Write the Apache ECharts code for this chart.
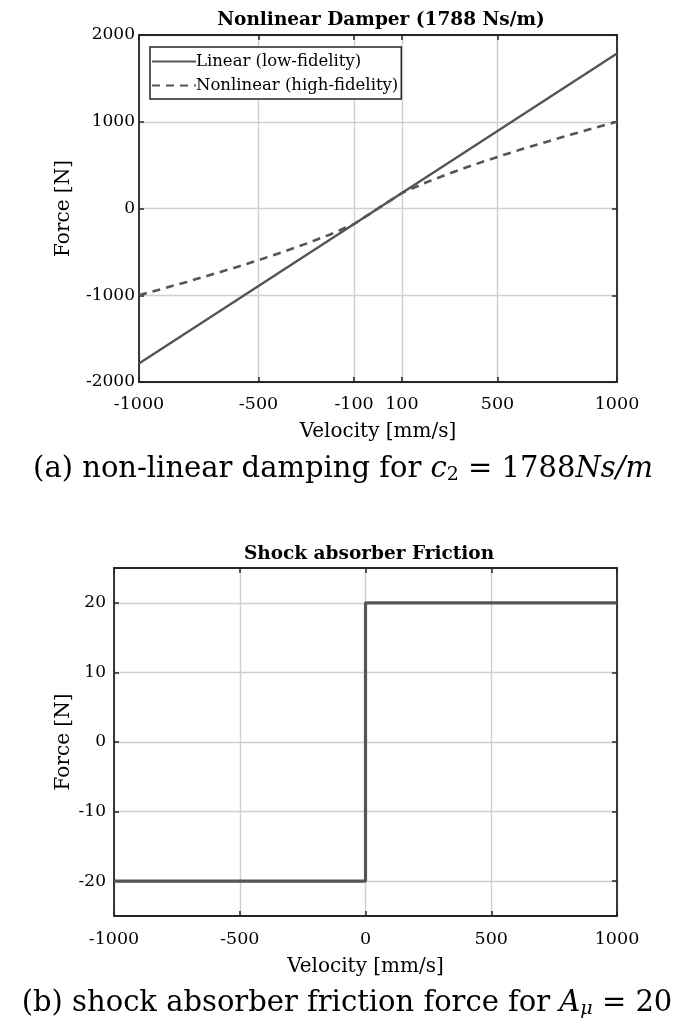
<!DOCTYPE html>
<html>
<head>
<meta charset="utf-8">
<script src="https://cdn.jsdelivr.net/npm/echarts@6/dist/echarts.min.js"></script>
<style>
  html, body { margin: 0; padding: 0; background: #fff; }
  #chart { width: 685px; height: 1027px; }
</style>
</head>
<body>
<div id="chart"></div>
<script>
// top plot: damper force vs velocity
var velTicks = [-1000, -500, -100, 100, 500, 1000];
var linearVel = [-1000, -100, 0, 100, 1000];
var linearForce = [-1788, -179, 0, 179, 1788];
var nonlinVel = [-1000, -900, -800, -700, -600, -500, -400, -300, -200, -100, 0, 100, 200, 300, 400, 500, 600, 700, 800, 900, 1000];
var nonlinForce = [-1000, -924, -846, -765, -682, -595, -503, -405, -299, -179, 0, 179, 299, 405, 503, 595, 682, 765, 846, 924, 1000];

// bottom plot: friction step
var frictionVel = [-1000, 0, 0, 1000];
var frictionForce = [-20, -20, 20, 20];
var frictionTicks = [-20, -10, 0, 10, 20];

var serif = 'DejaVu Serif';
var axisColor = '#262626';
var gridColor = '#cfcfcf';
var lineColor = '#555555';

function pairs(xs, ys) {
    return xs.map(function (x, i) { return [x, ys[i]]; });
}

function plain(v) { return String(v); }

var xTickFont = { fontFamily: serif, fontSize: 17.5, color: '#000', formatter: plain };
var yTickFont = { fontFamily: serif, fontSize: 17, color: '#000', formatter: plain };
var xNameFont = { fontFamily: serif, fontSize: 20, color: '#000' };
var yNameFont = { fontFamily: serif, fontSize: 20, color: '#000' };
var borderLine = { show: true, onZero: false, lineStyle: { color: axisColor, width: 1.8 } };

function ticks(custom) {
    var t = { show: true, inside: true, length: 5, lineStyle: { color: axisColor, width: 1.5 } };
    if (custom) t.customValues = custom;
    return t;
}

// top / right edges of the box, ticks only
function boxAxis(gridIndex, pos, extra) {
    var a = {
        gridIndex: gridIndex,
        type: 'value',
        position: pos,
        axisLine: borderLine,
        axisTick: ticks(),
        axisLabel: { show: false },
        splitLine: { show: false }
    };
    return Object.assign(a, extra);
}

function caption(text, left, top) {
    return {
        text: text, left: left, top: top, textAlign: 'center',
        textStyle: {
            rich: {
                n: { fontFamily: serif, fontSize: 29, fontWeight: 'normal', color: '#000' },
                i: { fontFamily: serif, fontSize: 29, fontWeight: 'normal', fontStyle: 'italic', color: '#000' },
                s: { fontFamily: serif, fontSize: 19, fontWeight: 'normal', color: '#000', padding: [12, 0, 0, 0] },
                si: { fontFamily: serif, fontSize: 19, fontWeight: 'normal', fontStyle: 'italic', color: '#000', padding: [12, 0, 0, 0] }
            }
        }
    };
}

var chart = echarts.init(document.getElementById('chart'));
chart.setOption({
    animation: false,
    title: [
        {
            text: 'Nonlinear Damper (1788 Ns/m)',
            left: 376, top: 6, textAlign: 'center',
            textStyle: { fontFamily: serif, fontSize: 18.5, fontWeight: 'bold', color: '#000' }
        },
        {
            text: 'Shock absorber Friction',
            left: 364, top: 540, textAlign: 'center',
            textStyle: { fontFamily: serif, fontSize: 18.5, fontWeight: 'bold', color: '#000' }
        },
        caption('{n|(a) non-linear damping for }{i|c}{s|2}{n| = 1788}{i|Ns/m}', 338, 449),
        caption('{n|(b) shock absorber friction force for }{i|A}{si|μ}{n| = 20}', 342, 983)
    ],
    legend: {
        left: 150, top: 47,
        orient: 'vertical',
        data: ['Linear (low-fidelity)', 'Nonlinear (high-fidelity)'],
        backgroundColor: '#fff',
        borderColor: axisColor,
        borderWidth: 1.5,
        borderRadius: 0,
        padding: [6, 3, 5, 1],
        itemGap: 7,
        itemWidth: 44,
        itemHeight: 18,
        itemStyle: { opacity: 0 },
        textStyle: { fontFamily: serif, fontSize: 16.5, color: '#000', padding: [0, 0, 0, -5] }
    },
    grid: [
        { left: 139, right: 68, top: 35, height: 347 },
        { left: 114, right: 68, top: 568, height: 348 }
    ],
    xAxis: [
        {
            gridIndex: 0, type: 'value', min: -1000, max: 1000,
            name: 'Velocity [mm/s]', nameLocation: 'middle', nameGap: 40,
            nameTextStyle: xNameFont,
            axisLine: borderLine,
            axisTick: ticks(velTicks),
            axisLabel: Object.assign({ customValues: velTicks, margin: 13 }, xTickFont),
            splitLine: { show: true, lineStyle: { color: gridColor, width: 1.4 } }
        },
        boxAxis(0, 'top', { min: -1000, max: 1000, axisTick: ticks(velTicks) }),
        {
            gridIndex: 1, type: 'value', min: -1000, max: 1000, interval: 500,
            name: 'Velocity [mm/s]', nameLocation: 'middle', nameGap: 41,
            nameTextStyle: xNameFont,
            axisLine: borderLine,
            axisTick: ticks(),
            axisLabel: Object.assign({ margin: 14 }, xTickFont),
            splitLine: { show: true, lineStyle: { color: gridColor, width: 1.4 } }
        },
        boxAxis(1, 'top', { min: -1000, max: 1000, interval: 500 })
    ],
    yAxis: [
        {
            gridIndex: 0, type: 'value', min: -2000, max: 2000, interval: 1000,
            name: 'Force [N]', nameLocation: 'middle', nameGap: 65, nameMoveOverlap: false,
            nameTextStyle: yNameFont,
            axisLine: borderLine,
            axisTick: ticks(),
            axisLabel: Object.assign({ margin: 4 }, yTickFont),
            splitLine: { show: true, lineStyle: { color: gridColor, width: 1.4 } }
        },
        boxAxis(0, 'right', { min: -2000, max: 2000, interval: 1000 }),
        {
            gridIndex: 1, type: 'value', min: -25, max: 25,
            name: 'Force [N]', nameLocation: 'middle', nameGap: 40, nameMoveOverlap: false,
            nameTextStyle: yNameFont,
            axisLine: borderLine,
            axisTick: ticks(frictionTicks),
            axisLabel: Object.assign({ customValues: frictionTicks, margin: 8 }, yTickFont),
            splitLine: { show: true, lineStyle: { color: gridColor, width: 1.4 } }
        },
        boxAxis(1, 'right', { min: -25, max: 25, axisTick: ticks(frictionTicks) })
    ],
    series: [
        {
            name: 'Linear (low-fidelity)', type: 'line',
            xAxisIndex: 0, yAxisIndex: 0,
            data: pairs(linearVel, linearForce),
            showSymbol: false, symbol: 'none',
            itemStyle: { color: lineColor },
            lineStyle: { color: lineColor, width: 2.4 }
        },
        {
            name: 'Nonlinear (high-fidelity)', type: 'line',
            xAxisIndex: 0, yAxisIndex: 0,
            data: pairs(nonlinVel, nonlinForce),
            showSymbol: false, symbol: 'none',
            itemStyle: { color: lineColor },
            lineStyle: { color: lineColor, width: 2.6, type: [8, 6] }
        },
        {
            name: 'Friction', type: 'line',
            xAxisIndex: 2, yAxisIndex: 2,
            data: pairs(frictionVel, frictionForce),
            showSymbol: false, symbol: 'none',
            itemStyle: { color: lineColor },
            lineStyle: { color: lineColor, width: 3.2 }
        }
    ]
});
</script>
</body>
</html>
